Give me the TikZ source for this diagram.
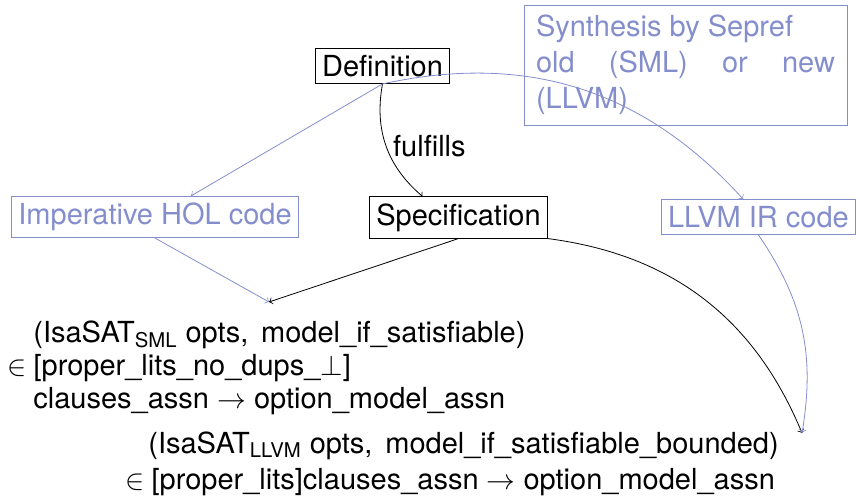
\documentclass[tikz,border=0pt]{standalone}
\usepackage{amsmath}
\usepackage{fontspec}
\setmainfont{TeX Gyre Heros}
\definecolor{synblue}{RGB}{132,142,204}
\newcommand{\bigfont}{\fontsize{14.5}{18}\selectfont}
\begin{document}
\begin{tikzpicture}[x=0.5pt,y=-0.5pt,
  every node/.style={font=\bigfont},
  blackbox/.style={draw=black, text=black},
  bluebox/.style={draw=synblue, text=synblue},
  blackarrow/.style={->, draw=black},
  bluearrow/.style={->, draw=synblue},
  textline/.style={anchor=base west, inner sep=0pt, text=black}]
\useasboundingbox (0,0) rectangle (860,498);
\node[blackbox] (def) at (382.5,66) {Definition};
\node[bluebox, text width=149.5pt, align=justify, inner xsep=6pt, minimum height=60pt] (synth) at (685.5,65) {Synthesis by Sepref\\ old (SML) or new (LLVM)};
\node[bluebox] (imp) at (155,217) {Imperative HOL code};
\node[blackbox] (spec) at (458.5,217.5) {Specification};
\node[bluebox, anchor=west] (llvm) at (661,217) {LLVM IR code};
\coordinate (t1) at (269,302);
\coordinate (t2) at (802,433);
\node[textline] (l1) at (33,342) {(IsaSAT$_{\text{SML}}$ opts, \,model\_if\_satisfiable)};
\node[textline] (l2) at (7,375) {$\in$\hspace{3.5pt}[proper\_lits\_no\_dups\_$\bot$]};
\node[textline] (l3) at (33,408) {clauses\_assn $\rightarrow$ option\_model\_assn};
\node[textline] (l4) at (148,453) {(IsaSAT$_{\text{LLVM}}$ opts, \,model\_if\_satisfiable\_bounded)};
\node[textline] (l5) at (125,489) {$\in$\hspace{3.5pt}[proper\_lits]clauses\_assn $\rightarrow$ option\_model\_assn};
\draw[blackarrow] (def.south) to[bend right] node[right, text=black] (ful) {fulfills} (spec);
\draw[bluearrow] (def.south) -- (imp);
\draw[bluearrow] (def.south) to[bend left] (llvm);
\draw[bluearrow] (imp.south) -- (t1);
\draw[blackarrow] (spec.south) -- (t1);
\draw[blackarrow] (spec.south east) to[bend left] (t2);
\draw[bluearrow] (llvm.south) to[bend left=22] (t2);
\end{tikzpicture}
\end{document}
